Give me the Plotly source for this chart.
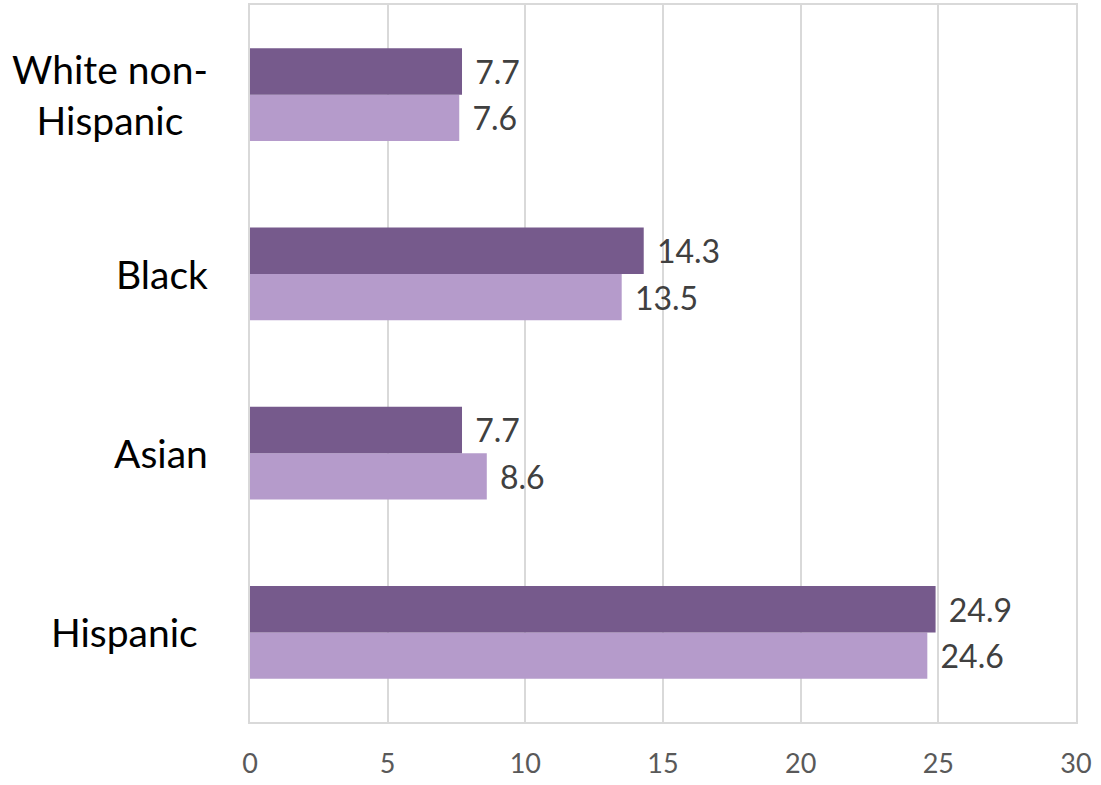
import plotly.graph_objects as go

categories = ["Hispanic", "Asian", "Black", "White non-<br>Hispanic"]
series_light = [24.6, 8.6, 13.5, 7.6]
series_dark = [24.9, 7.7, 14.3, 7.7]
x_ticks = [0, 5, 10, 15, 20, 25, 30]

FONT = "Lato, 'Open Sans', sans-serif"
LIGHT = "#B59BCB"
DARK = "#765A8C"

fig = go.Figure()
fig.add_trace(go.Bar(
    y=categories, x=series_light, orientation="h",
    marker=dict(color=LIGHT, line=dict(width=0)),
    texttemplate="\u00a0\u200a%{x}", textposition="outside", cliponaxis=False,
    textfont=dict(family=FONT, size=32, color="#404040"),
    showlegend=False, hoverinfo="skip",
))
fig.add_trace(go.Bar(
    y=categories, x=series_dark, orientation="h",
    marker=dict(color=DARK, line=dict(width=0)),
    texttemplate="\u00a0\u200a%{x}", textposition="outside", cliponaxis=False,
    textfont=dict(family=FONT, size=32, color="#404040"),
    showlegend=False, hoverinfo="skip",
))

label_shift = [-10, 0, 0, 0]
for cat, sh in zip(categories, label_shift):
    fig.add_annotation(
        text=cat, xref="paper", yref="y", x=-40 / 826, y=cat,
        xanchor="right", yanchor="middle", align="center", showarrow=False,
        xshift=sh, font=dict(family=FONT, size=39, color="#000000"),
    )

fig.update_layout(
    width=1101, height=785,
    margin=dict(l=250, r=25, t=3, b=63),
    paper_bgcolor="white", plot_bgcolor="white",
    barmode="group", bargap=0.483, bargroupgap=0,
    font=dict(family=FONT),
)
fig.update_xaxes(
    range=[0, 30], tickvals=x_ticks, ticktext=[str(v) for v in x_ticks],
    showgrid=True, gridcolor="#D9D9D9", gridwidth=1.5,
    showline=True, linecolor="#D9D9D9", linewidth=1.5, mirror=True,
    zeroline=False, ticks="", ticklabelstandoff=17,
    tickfont=dict(family=FONT, size=27, color="#595959"),
)
fig.update_yaxes(
    range=[-0.5, 3.5], showticklabels=False, showgrid=False,
    showline=True, linecolor="#D9D9D9", linewidth=1.5, mirror=True,
    zeroline=False, ticks="",
)

fig.write_html(
    "out.html",
    config={"displayModeBar": False},
    post_script="document.body.style.margin='0';document.body.style.overflow='hidden';",
)
